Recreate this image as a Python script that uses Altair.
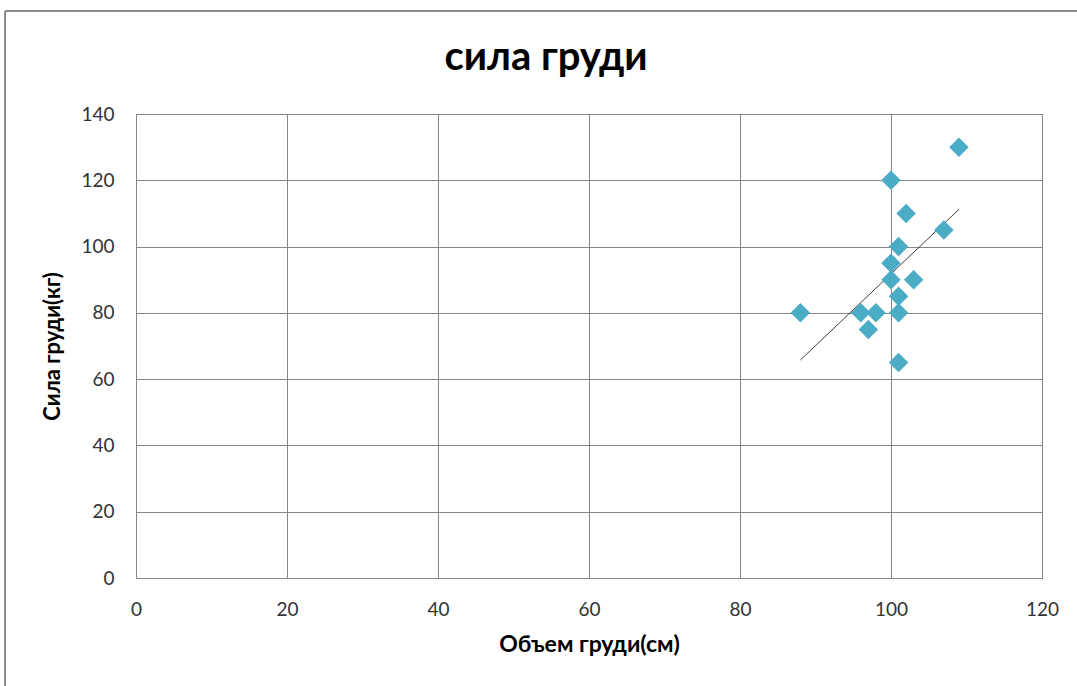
import altair as alt
import pandas as pd

# Chest girth (cm) vs. chest strength (kg)
girth = [88, 96, 98, 97, 100, 100, 100, 101, 101, 101, 101, 102, 103, 107, 109]
strength = [80, 80, 80, 75, 120, 95, 90, 100, 85, 80, 65, 110, 90, 105, 130]
title_text = ["сила груди"]

df = pd.DataFrame({"girth": girth, "strength": strength})

FONT = "Lato"
GRID = "#868686"

x_enc = alt.X(
    "girth:Q",
    scale=alt.Scale(domain=[0, 120], nice=False),
    axis=alt.Axis(values=[0, 20, 40, 60, 80, 100, 120], title="Объем груди(см)",
                  titlePadding=14, titleFontSize=23),
)
y_enc = alt.Y(
    "strength:Q",
    scale=alt.Scale(domain=[0, 140], nice=False),
    axis=alt.Axis(values=[0, 20, 40, 60, 80, 100, 120, 140], title="Сила груди(кг)",
                  titlePadding=16, titleFontSize=22),
)

points = alt.Chart(df).mark_point(
    shape="diamond", filled=True, size=380, color="#4BACC6", opacity=1
).encode(x=x_enc, y=y_enc)

trend = alt.Chart(df).transform_regression(
    "girth", "strength", method="linear"
).mark_line(color="#404040", strokeWidth=1).encode(x="girth:Q", y="strength:Q")

# chart title, centred over the chart area
title = alt.Chart(pd.DataFrame({"t": title_text})).mark_text(
    font=FONT, fontSize=40, fontWeight="bold", color="#000000",
    align="center", baseline="middle", clip=False,
).encode(text="t:N", x=alt.value(410), y=alt.value(-56))

# outer chart-area frame (left and top edges)
frame_left = alt.Chart(df).mark_rule(color="#8c8c8c", strokeWidth=2, clip=False).encode(
    x=alt.value(-131), y=alt.value(-103), y2=alt.value(580)
)
frame_top = alt.Chart(df).mark_rule(color="#8c8c8c", strokeWidth=2, clip=False).encode(
    x=alt.value(-131), x2=alt.value(960), y=alt.value(-103)
)

chart = alt.layer(frame_left, frame_top, title, trend, points).properties(
    width=906,
    height=464,
    autosize=alt.AutoSizeParams(type="none"),
    padding={"left": 136, "top": 114, "right": 35, "bottom": 108},
    background="white",
).configure_view(
    stroke=GRID, strokeWidth=1
).configure_axis(
    grid=True, gridColor=GRID, gridWidth=1, domain=False, ticks=False,
    labelFlush=False, labelOverlap=False,
    labelFont=FONT, labelFontSize=19, labelColor="#333333", labelPadding=22,
    titleFont=FONT, titleFontWeight="bold", titleColor="#000000",
)

chart.save("out.html", embed_options={"renderer": "svg", "actions": False})
